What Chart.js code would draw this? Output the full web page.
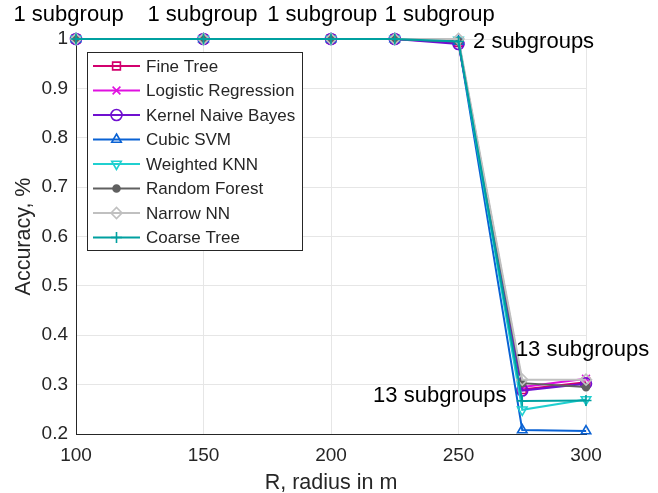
<!DOCTYPE html>
<html>
<head>
<meta charset="utf-8">
<script src="https://cdn.jsdelivr.net/npm/chart.js@4"></script>
<style>
  html, body { margin: 0; padding: 0; background: #fff; }
  canvas { display: block; }
</style>
</head>
<body>
<canvas id="acc-chart" width="658" height="493"></canvas>
<script>
// radius values (m)
var radius = [100, 150, 200, 225, 250, 275, 300];

// accuracy of each classifier
var fineTree     = [1, 1, 1, 1, 0.993, 0.290, 0.305];
var logReg       = [1, 1, 1, 1, 0.995, 0.295, 0.312];
var kernelNB     = [1, 1, 1, 1, 0.990, 0.288, 0.302];
var cubicSVM     = [1, 1, 1, 1, 0.995, 0.208, 0.206];
var weightedKNN  = [1, 1, 1, 1, 0.998, 0.249, 0.270];
var randomForest = [1, 1, 1, 1, 0.995, 0.303, 0.295];
var narrowNN     = [1, 1, 1, 1, 1.000, 0.310, 0.310];
var coarseTree   = [1, 1, 1, 1, 0.995, 0.267, 0.268];

var seriesNames = ["Fine Tree", "Logistic Regression", "Kernel Naive Bayes", "Cubic SVM",
  "Weighted KNN", "Random Forest", "Narrow NN", "Coarse Tree"];
var seriesData = [fineTree, logReg, kernelNB, cubicSVM, weightedKNN, randomForest, narrowNN, coarseTree];
var seriesColors = ["#d2006e", "#e010e0", "#7010d0", "#0a62d4", "#20d0d0", "#606060", "#c0c0c0", "#00a0a0"];
var seriesMarkers = ["rect", "crossRot", "circle", "triangle", "triangle", "circle", "rectRot", "cross"];

// text labels placed in data coords
var notes = [
  { x: 75.5, y: 1.049, text: "1 subgroup" },
  { x: 128, y: 1.049, text: "1 subgroup" },
  { x: 175, y: 1.049, text: "1 subgroup" },
  { x: 221, y: 1.049, text: "1 subgroup" },
  { x: 255.7, y: 0.994, text: "2 subgroups" },
  { x: 272.5, y: 0.370, text: "13 subgroups" },
  { x: 216.5, y: 0.277, text: "13 subgroups" },
];

var FONT = "'Liberation Sans', Arial, Helvetica, sans-serif";
var TXT = "#262626";

function pointOf(i) {
  return radius.map(function (r, k) { return { x: r, y: seriesData[i][k] }; });
}

var datasets = seriesNames.map(function (name, i) {
  var filled = name === "Random Forest";
  return {
    label: name,
    data: pointOf(i),
    borderColor: seriesColors[i],
    backgroundColor: seriesColors[i],
    borderWidth: 2,
    pointStyle: seriesMarkers[i],
    pointRotation: name === "Weighted KNN" ? 180 : 0,
    pointRadius: filled ? 3.5 : 5.5,
    pointBorderWidth: 1.6,
    pointBackgroundColor: filled ? seriesColors[i] : "rgba(0,0,0,0)",
    order: seriesNames.length - i,
    clip: false,
  };
});

// legend box + text annotations
var overlay = {
  id: "overlay",
  afterDatasetsDraw: function (chart) {
    var ctx = chart.ctx;
    var xs = chart.scales.x, ys = chart.scales.y;
    ctx.save();

    // legend
    var lx = 87, ly = 52, lw = 215, lh = 198;
    ctx.fillStyle = "#fff";
    ctx.fillRect(lx, ly, lw, lh);
    ctx.strokeStyle = "#262626";
    ctx.lineWidth = 1;
    ctx.strokeRect(lx + 0.5, ly + 0.5, lw, lh);
    ctx.font = "17px " + FONT;
    ctx.textBaseline = "middle";
    ctx.textAlign = "left";
    datasets.forEach(function (ds, i) {
      var cy = 66 + i * 24.5;
      ctx.strokeStyle = ds.borderColor;
      ctx.lineWidth = 2;
      ctx.beginPath();
      ctx.moveTo(93, cy);
      ctx.lineTo(140, cy);
      ctx.stroke();
      ctx.fillStyle = ds.pointBackgroundColor;
      ctx.strokeStyle = ds.borderColor;
      ctx.lineWidth = 1.6;
      Chart.helpers.drawPoint(ctx, {
        pointStyle: ds.pointStyle,
        rotation: ds.pointRotation,
        radius: ds.pointRadius,
        borderWidth: 1.6,
      }, 116.5, cy);
      ctx.fillStyle = TXT;
      ctx.fillText(ds.label, 146, cy + 1);
    });

    // annotations
    ctx.font = "22px " + FONT;
    ctx.fillStyle = "#000";
    notes.forEach(function (n) {
      ctx.fillText(n.text, xs.getPixelForValue(n.x), ys.getPixelForValue(n.y));
    });
    ctx.restore();
  },
};

new Chart(document.getElementById("acc-chart").getContext("2d"), {
  type: "line",
  data: { datasets: datasets },
  options: {
    responsive: false,
    animation: false,
    events: [],
    layout: { padding: { top: 39, right: 72, left: 0, bottom: 0 } },
    plugins: {
      legend: { display: false },
      tooltip: { enabled: false },
    },
    scales: {
      x: {
        type: "linear",
        min: 100,
        max: 300,
        ticks: { stepSize: 50, color: TXT, font: { family: FONT, size: 19 }, padding: 10 },
        grid: { color: "#e6e6e6", drawTicks: false },
        border: { color: "#262626", width: 1 },
        title: { display: true, text: "R, radius in m", color: TXT, font: { family: FONT, size: 21.5 }, padding: { top: -2.5, bottom: -2.5 } },
        afterFit: function (s) { s.height = 59; },
      },
      y: {
        min: 0.2,
        max: 1,
        ticks: { stepSize: 0.1, color: TXT, font: { family: FONT, size: 19 }, padding: 8,
          callback: function (v) { return Math.round(v * 10) / 10; } },
        grid: { color: "#e6e6e6", drawTicks: false },
        border: { color: "#262626", width: 1 },
        title: { display: true, text: "Accuracy, %", color: TXT, font: { family: FONT, size: 21.5 }, padding: { top: 11, bottom: 11 } },
        afterFit: function (s) { s.width = 76; },
      },
    },
  },
  plugins: [overlay],
});
</script>
</body>
</html>
